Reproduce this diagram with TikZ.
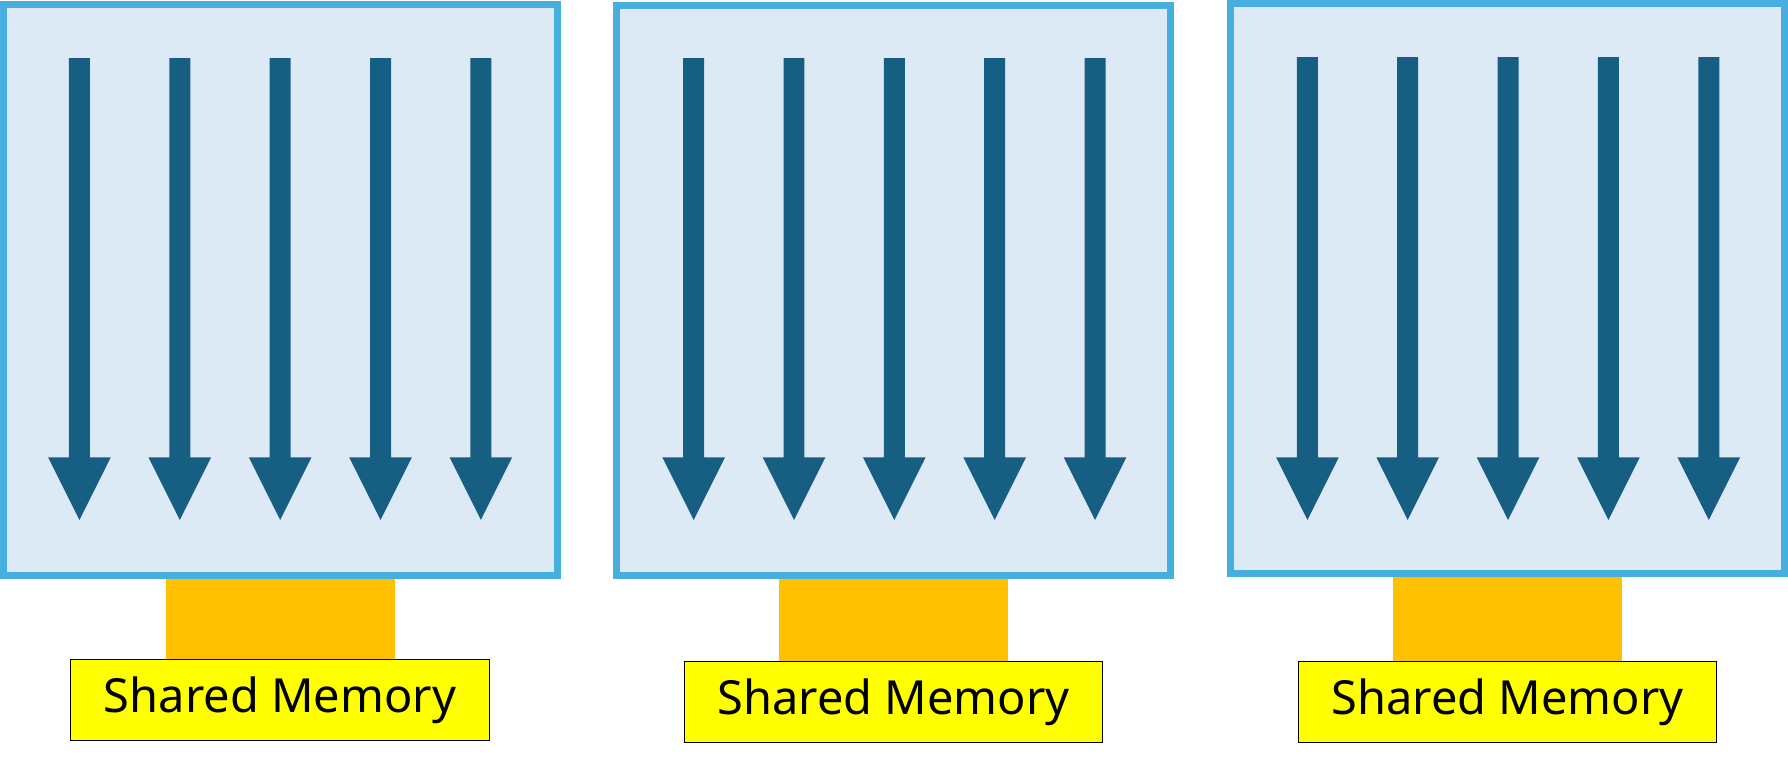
\documentclass[tikz,border=0pt]{standalone}
\usepackage{fontspec}
\setmainfont{Noto Sans}
\newfontfamily\smfont{Noto Sans}
\definecolor{bordblue}{HTML}{47AFE0}
\definecolor{boxfill}{HTML}{DDEAF6}
\definecolor{arrowblue}{HTML}{175F82}
\definecolor{orange}{HTML}{FFC000}
\definecolor{yel}{HTML}{FFFF00}
\tikzset{
  smbox/.style={draw=bordblue, line width=3.07pt, fill=boxfill, outer sep=0pt, inner sep=0pt},
  thread/.style={fill=arrowblue, draw=none},
  link/.style={fill=orange, draw=none},
  membox/.style={draw=black, line width=0.5pt, fill=yel, inner sep=0pt, outer sep=0pt},
  memtext/.style={inner sep=0pt, font=\smfont\fontsize{20.6}{24}\selectfont}
}
\begin{document}
\begin{tikzpicture}[x=0.5pt, y=-0.5pt]
\useasboundingbox (0,0) rectangle (1568,682);
\foreach \i/\bl/\bt/\br/\bb/\ol/\orr/\yt/\yb/\yl/\yr/\at/\ax/\tb in {
  1/0/0.9/492/507.8/145.6/346.4/578/649/62/429/51/69.7/625,
  2/537.6/1.5/1029.6/507.8/683/884/580/651/600/967/51/608.3/627,
  3/1076/0/1568/506/1222/1422/580/651/1139/1505/50/1146.5/627}{
  \fill[link] (\ol,\bb-2) rectangle (\orr,\yt);
  \node[smbox, minimum width={(\br-\bl)*0.5pt-3.07pt}, minimum height={(\bb-\bt)*0.5pt-3.07pt}, anchor=north west] (sm\i) at ({\bl+3.07},{\bt+3.07}) {};
  \node[membox, minimum width={(\yr-\yl)*0.5pt}, minimum height={(\yb-\yt)*0.5pt}, anchor=north west] (mem\i) at (\yl,\yt) {};
  \node[memtext, anchor=base] (lab\i) at ({(\yl+\yr)/2},\tb) {Shared Memory};
  \foreach \k in {0,...,4}{
    \pgfmathsetmacro{\cx}{\ax+88*\k}
    \fill[thread] (\cx-9.2,\at) -- (\cx+9.2,\at) -- (\cx+9.2,401) -- (\cx+27.5,401) -- (\cx,456) -- (\cx-27.5,401) -- (\cx-9.2,401) -- cycle;
  }
}
\end{tikzpicture}
\end{document}
